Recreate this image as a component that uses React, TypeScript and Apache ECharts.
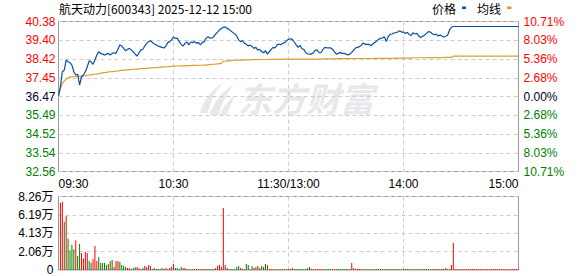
import React, { useEffect, useRef } from "react";
import * as echarts from "echarts";

// ---------------- data ----------------
const PRICE: number[] = [
  36.5, 37.0, 37.76, 37.85, 38.37, 38.28, 38.23, 38.11, 37.76, 37.59,
  37.62, 37.07, 37.5, 37.59, 37.76, 38.02, 38.33, 38.28, 38.15, 38.37,
  38.63, 38.81, 38.72, 38.68, 38.63, 38.68, 38.72, 38.63, 38.72, 38.75,
  38.72, 38.93, 39.16, 39.1, 38.98, 38.85, 38.93, 38.98, 38.89, 38.81,
  38.68, 38.57, 38.75, 38.89, 38.93, 39.1, 39.24, 39.33, 39.38, 39.28,
  39.21, 39.16, 39.1, 39.07, 39.03, 39.0, 39.1, 39.28, 39.33, 39.42,
  39.57, 39.5, 39.51, 39.33, 39.19, 39.1, 39.24, 39.31, 39.16, 39.31,
  39.28, 39.33, 39.24, 39.29, 39.16, 39.28, 39.33, 39.51, 39.59, 39.51,
  39.52, 39.59, 39.73, 39.83, 39.94, 40.01, 40.08, 40.1, 40.02, 39.97,
  39.88, 39.8, 39.73, 39.62, 39.42, 39.33, 39.38, 39.24, 39.19, 39.1,
  39.16, 39.07, 38.98, 39.03, 38.89, 38.93, 38.81, 38.75, 38.86, 38.68,
  38.81, 38.93, 39.03, 39.0, 39.16, 39.21, 39.17, 39.24, 39.28, 39.38,
  39.45, 39.48, 39.45, 39.31, 39.16, 39.03, 39.14, 38.96, 38.93, 38.75,
  38.7, 38.68, 38.68, 38.75, 38.89, 38.89, 38.75, 38.75, 38.93, 39.03,
  39.01, 39.01, 39.0, 38.93, 38.79, 38.68, 38.72, 38.77, 38.72, 38.72,
  38.68, 38.63, 38.68, 38.77, 38.89, 39.0, 39.03, 39.07, 39.14, 39.26,
  39.19, 39.19, 39.19, 39.12, 39.21, 39.29, 39.36, 39.45, 39.5, 39.52,
  39.59, 39.33, 39.59, 39.71, 39.73, 39.78, 39.8, 39.83, 39.9, 39.83,
  39.83, 39.76, 39.81, 39.69, 39.66, 39.8, 39.73, 39.76, 39.62, 39.55,
  39.61, 39.67, 39.76, 39.85, 39.83, 39.74, 39.69, 39.73, 39.62, 39.67,
  39.62, 39.57, 39.61, 39.66, 39.94, 40.08, 40.12, 40.12, 40.12, 40.12,
  40.12, 40.12, 40.12, 40.12, 40.12, 40.12, 40.12, 40.12, 40.12, 40.12,
  40.12, 40.12, 40.12, 40.12, 40.12, 40.12, 40.12, 40.12, 40.12, 40.12,
  40.12, 40.12, 40.12, 40.12, 40.12, 40.12, 40.12, 40.12, 40.12, 40.12,
  40.12,
];

const AVG: number[] = [
  36.5, 36.9, 37.15, 37.28, 37.38, 37.44, 37.48, 37.5, 37.51, 37.52,
  37.52, 37.53, 37.53, 37.54, 37.55, 37.57, 37.59, 37.6, 37.62, 37.63,
  37.64, 37.66, 37.68, 37.7, 37.72, 37.73, 37.75, 37.76, 37.77, 37.78,
  37.79, 37.8, 37.82, 37.83, 37.84, 37.85, 37.86, 37.87, 37.88, 37.89,
  37.9, 37.9, 37.91, 37.92, 37.93, 37.94, 37.94, 37.95, 37.96, 37.97,
  37.98, 37.98, 37.99, 38.0, 38.0, 38.01, 38.02, 38.02, 38.03, 38.04,
  38.05, 38.05, 38.06, 38.06, 38.07, 38.07, 38.07, 38.08, 38.08, 38.08,
  38.09, 38.09, 38.09, 38.1, 38.1, 38.1, 38.11, 38.11, 38.12, 38.13,
  38.14, 38.15, 38.16, 38.17, 38.18, 38.2, 38.3, 38.32, 38.33, 38.33,
  38.34, 38.35, 38.36, 38.36, 38.37, 38.37, 38.37, 38.38, 38.38, 38.38,
  38.38, 38.39, 38.39, 38.39, 38.39, 38.4, 38.4, 38.4, 38.4, 38.4,
  38.41, 38.41, 38.41, 38.41, 38.41, 38.41, 38.41, 38.42, 38.42, 38.42,
  38.42, 38.42, 38.42, 38.42, 38.42, 38.42, 38.42, 38.42, 38.42, 38.42,
  38.42, 38.42, 38.42, 38.42, 38.42, 38.42, 38.42, 38.42, 38.43, 38.43,
  38.43, 38.43, 38.43, 38.43, 38.43, 38.43, 38.44, 38.44, 38.44, 38.44,
  38.44, 38.44, 38.44, 38.45, 38.45, 38.45, 38.45, 38.45, 38.45, 38.45,
  38.45, 38.45, 38.45, 38.45, 38.45, 38.46, 38.46, 38.46, 38.46, 38.46,
  38.46, 38.46, 38.46, 38.46, 38.46, 38.47, 38.47, 38.47, 38.47, 38.47,
  38.47, 38.47, 38.47, 38.47, 38.47, 38.49, 38.49, 38.49, 38.49, 38.49,
  38.49, 38.49, 38.49, 38.5, 38.5, 38.5, 38.5, 38.5, 38.5, 38.5,
  38.5, 38.51, 38.51, 38.51, 38.51, 38.51, 38.57, 38.58, 38.58, 38.58,
  38.58, 38.58, 38.58, 38.58, 38.58, 38.58, 38.58, 38.58, 38.58, 38.58,
  38.58, 38.58, 38.58, 38.58, 38.58, 38.58, 38.58, 38.58, 38.58, 38.58,
  38.58, 38.58, 38.58, 38.58, 38.58, 38.58, 38.58, 38.58, 38.58, 38.58,
  38.58,
];

// volume in 万
const VOLUME: number[] = [
  0, 7.55, 7.66, 5.41, 6.08, 3.53, 2.22, 2.85, 2.33, 3.34,
  1.58, 2.93, 1.91, 1.28, 2.03, 1.91, 1.01, 0.79, 1.24, 2.7,
  1.01, 1.46, 0.79, 0.79, 0.79, 0.56, 0.68, 1.01, 1.13, 0.34,
  1.01, 1.01, 0.9, 0.56, 0.45, 0.34, 0.23, 0.23, 0.11, 0.23,
  0.34, 0.34, 0.23, 0.11, 0.23, 0.45, 0.34, 0.56, 0.45, 0.11,
  0.23, 0.11, 0.11, 0.11, 0.23, 0.11, 0.23, 0.11, 0.23, 0.34,
  0.68, 0.23, 0.23, 0.11, 0.34, 0.23, 0.23, 0.11, 0.11, 0.11,
  0.11, 0.11, 0.11, 0.11, 0.11, 0.11, 0.11, 0.11, 0.11, 0.11,
  0.11, 0.11, 0.23, 0.45, 0.56, 0.34, 6.98, 0.56, 0.23, 0.11,
  0.11, 0.11, 0.11, 0.34, 0.45, 0.23, 0.11, 0.11, 0.68, 0.56,
  0.11, 0.45, 0.23, 0.34, 0.45, 0.23, 0.45, 0.34, 0.68, 0.56,
  0.11, 0.11, 0.11, 0.11, 0.11, 0.11, 0.11, 0.11, 0.11, 0.11,
  0.11, 0.11, 0.23, 0.11, 0.11, 0.11, 0.11, 0.11, 0.11, 0.11,
  0.23, 0.34, 0.11, 0.11, 0.11, 0.11, 0.11, 0.11, 0.11, 0.11,
  0.11, 0.11, 0.11, 0.11, 0.11, 0.11, 0.11, 0.11, 0.11, 0.11,
  0.11, 0.11, 0.11, 0.79, 0.23, 0.11, 0.11, 0.11, 0.11, 0.11,
  0.11, 0.11, 0.11, 0.11, 0.11, 0.11, 0.11, 0.11, 0.11, 0.11,
  0.11, 0.11, 0.11, 0.11, 0.11, 0.11, 0.11, 0.11, 0.11, 0.11,
  0.11, 0.11, 0.11, 0.11, 0.11, 0.11, 0.11, 0.11, 0.11, 0.11,
  0.11, 0.11, 0.11, 0.11, 0.11, 0.11, 0.11, 0.11, 0.11, 0.11,
  0.11, 0.11, 0.23, 0.11, 0.11, 0.56, 3.04, 0.11, 0.11, 0.11,
  0.11, 0.11, 0.11, 0.11, 0.11, 0.11, 0.11, 0.11, 0.11, 0.11,
  0.11, 0.11, 0.11, 0.11, 0.11, 0.11, 0.11, 0.11, 0.11, 0.11,
  0.11, 0.11, 0.11, 0.11, 0.11, 0.11, 0.11, 0.11, 0.11, 0.11,
  0.11,
];

// 1 = up (red), 0 = down (green)
const VOL_UP: number[] = [
  1, 1, 1, 0, 1, 0, 0, 0, 0, 1,
  0, 0, 1, 1, 1, 1, 0, 0, 1, 1,
  1, 0, 0, 0, 0, 0, 1, 0, 0, 1,
  1, 1, 0, 0, 0, 0, 1, 1, 0, 0,
  0, 1, 1, 0, 0, 1, 1, 1, 0, 1,
  1, 0, 0, 0, 0, 1, 1, 1, 0, 1,
  1, 0, 0, 0, 0, 1, 1, 0, 1, 0,
  1, 0, 1, 0, 1, 1, 1, 0, 0, 0,
  0, 1, 1, 1, 1, 1, 1, 1, 0, 0,
  0, 0, 0, 0, 0, 1, 1, 1, 0, 0,
  1, 0, 1, 0, 1, 1, 0, 0, 1, 0,
  1, 1, 1, 0, 0, 0, 1, 0, 1, 1,
  1, 0, 0, 1, 0, 0, 0, 0, 0, 0,
  0, 1, 1, 1, 1, 1, 1, 1, 1, 0,
  0, 0, 1, 0, 1, 0, 0, 0, 1, 0,
  0, 0, 0, 1, 1, 1, 1, 1, 1, 1,
  0, 0, 0, 0, 1, 1, 0, 1, 0, 1,
  0, 1, 0, 1, 0, 0, 1, 0, 1, 0,
  0, 1, 1, 0, 0, 1, 0, 0, 0, 1,
  0, 1, 0, 1, 0, 1, 1, 0, 0, 1,
  1, 0, 0, 1, 1, 1, 1, 1, 1, 1,
  1, 1, 1, 1, 1, 1, 1, 1, 1, 1,
  1, 1, 1, 1, 1, 1, 1, 1, 1, 1,
  1, 1, 1, 1, 1, 1, 1, 1, 1, 1,
  1,
];

const PRICE_MIN = 32.56;
const PRICE_MAX = 40.38;
const PRICE_TICKS = ["32.56", "33.54", "34.52", "35.49", "36.47", "37.45", "38.42", "39.40", "40.38"];
const PCT_TICKS = ["10.71%", "8.03%", "5.36%", "2.68%", "0.00%", "2.68%", "5.36%", "8.03%", "10.71%"];
const VOL_MAX = 8.26;
const VOL_TICKS = ["0", "2.06万", "4.13万", "6.19万", "8.26万"];
const X_LABEL_IDX = [0, 60, 120, 180, 240];
const X_LABELS = ["09:30", "10:30", "11:30/13:00", "14:00", "15:00"];
const TITLE = "航天动力[600343] 2025-12-12 15:00";

// ---------------- helpers ----------------
function buildTimes(): string[] {
  const out: string[] = [];
  const fmt = (m: number) =>
    String(Math.floor(m / 60)).padStart(2, "0") + ":" + String(m % 60).padStart(2, "0");
  for (let m = 9 * 60 + 30; m <= 11 * 60 + 30; m++) out.push(fmt(m));
  for (let m = 13 * 60 + 1; m <= 15 * 60; m++) out.push(fmt(m));
  return out;
}

const RED = "#ff0000";
const GREEN = "#008000";
const NEUTRAL = "#000022";
const NUM_FONT = "'Liberation Sans', Arial, 'Noto Sans CJK SC', sans-serif";
const CJK_FONT = "'Noto Sans CJK SC', 'Liberation Sans', sans-serif";

const LOGO_D =
  "M4 38 C8 26 16 14 30 6 C22 14 16 26 13 38 Z " +
  "M15 40 C19 28 28 16 42 8 C34 18 28 29 25 40 Z " +
  "M26 40 C30 32 36 24 44 19 C40 27 36 34 35 40 Z";

let logoRegistered = false;
function registerLogo() {
  if (logoRegistered) return;
  echarts.graphic.registerShape("emlogo", echarts.graphic.extendPath(LOGO_D, {}) as any);
  logoRegistered = true;
}

export default function App() {
  const ref = useRef<HTMLDivElement>(null);

  useEffect(() => {
    if (!ref.current) return;
    registerLogo();
    const chart = echarts.init(ref.current, undefined, { renderer: "svg" });
    const times = buildTimes();
    const priceStep = (PRICE_MAX - PRICE_MIN) / 8;
    const volStep = VOL_MAX / 4;
    const pIdx = (v: any) => Math.round((Number(v) - PRICE_MIN) / priceStep);
    const pColor = (v: any) => {
      const k = pIdx(v);
      return k > 4 ? RED : k < 4 ? GREEN : NEUTRAL;
    };
    const vertSplit = {
      show: true,
      interval: (index: number) => index === 60 || index === 120 || index === 180,
      lineStyle: { color: "#cccccc", type: [4, 3] as any, width: 1 },
    };
    const horizSplit = {
      show: true,
      lineStyle: { color: "#cccccc", type: [4, 3] as any, width: 1 },
    };

    chart.setOption({
      animation: false,
      backgroundColor: "#ffffff",
      grid: [
        { left: 58.5, top: 21.5, right: 59.5, height: 150, show: true, borderColor: "#999999", borderWidth: 1, backgroundColor: "transparent" },
        { left: 58.5, top: 196.5, right: 59.5, height: 73.5, show: true, borderColor: "#999999", borderWidth: 1, backgroundColor: "transparent" },
      ],
      graphic: [
        {
          type: "emlogo",
          x: 196,
          y: 77,
          scaleX: 0.9,
          scaleY: 0.95,
          z: -10,
          silent: true,
          style: { fill: "#e8e8ec" },
        },
        {
          type: "text",
          x: 238,
          y: 80,
          z: -10,
          silent: true,
          style: {
            text: "东方财富",
            fill: "#e8e8ec",
            font: "italic bold 34px 'Noto Sans CJK SC', sans-serif",
          },
        },
        {
          type: "text",
          x: 59,
          y: 8.5,
          style: {
            text: TITLE,
            fill: "#000000",
            font: "12px " + CJK_FONT,
            verticalAlign: "middle",
          },
        },
        {
          type: "text",
          x: 432,
          y: 8.5,
          style: { text: "价格", fill: "#000000", font: "12px " + CJK_FONT, verticalAlign: "middle" },
        },
        { type: "rect", shape: { x: 462, y: 6.5, width: 4, height: 2.5 }, style: { fill: "#0a4fa0" } },
        {
          type: "text",
          x: 477,
          y: 8.5,
          style: { text: "均线", fill: "#000000", font: "12px " + CJK_FONT, verticalAlign: "middle" },
        },
        { type: "rect", shape: { x: 507, y: 6.5, width: 4.5, height: 2.5 }, style: { fill: "#dba02a" } },
      ],
      xAxis: [
        {
          type: "category",
          gridIndex: 0,
          data: times,
          boundaryGap: false,
          axisLine: { show: false },
          axisTick: { show: false },
          axisLabel: {
            interval: (index: number) => X_LABEL_IDX.includes(index),
            formatter: (_v: string, index: number) => {
              const k = X_LABEL_IDX.indexOf(index);
              return k >= 0 ? X_LABELS[k] : "";
            },
            color: "#000000",
            fontSize: 12,
            fontFamily: NUM_FONT,
            margin: 6,
            alignMinLabel: "left",
            alignMaxLabel: "right",
            showMinLabel: true,
            showMaxLabel: true,
          },
          splitLine: vertSplit,
        },
        {
          type: "category",
          gridIndex: 1,
          data: times,
          boundaryGap: false,
          axisLine: { show: false },
          axisTick: { show: false },
          axisLabel: { show: false },
          splitLine: vertSplit,
        },
      ],
      yAxis: [
        {
          type: "value",
          gridIndex: 0,
          min: PRICE_MIN,
          max: PRICE_MAX,
          interval: priceStep,
          axisLine: { show: false },
          axisTick: { show: false },
          axisLabel: {
            formatter: (v: number) => PRICE_TICKS[pIdx(v)] ?? "",
            color: (v: any) => pColor(v),
            fontSize: 12,
            fontFamily: NUM_FONT,
            margin: 3,
            showMinLabel: true,
            showMaxLabel: true,
          },
          splitLine: horizSplit,
        },
        {
          type: "value",
          gridIndex: 0,
          position: "right",
          min: PRICE_MIN,
          max: PRICE_MAX,
          interval: priceStep,
          axisLine: { show: false },
          axisTick: { show: false },
          axisLabel: {
            formatter: (v: number) => PCT_TICKS[pIdx(v)] ?? "",
            color: (v: any) => pColor(v),
            fontSize: 12,
            fontFamily: NUM_FONT,
            margin: 5,
            showMinLabel: true,
            showMaxLabel: true,
          },
          splitLine: { show: false },
        },
        {
          type: "value",
          gridIndex: 1,
          min: 0,
          max: VOL_MAX,
          interval: volStep,
          axisLine: { show: false },
          axisTick: { show: false },
          axisLabel: {
            formatter: (v: number) => VOL_TICKS[Math.round(v / volStep)] ?? "",
            color: "#000000",
            fontSize: 12,
            fontFamily: NUM_FONT,
            margin: 5,
            showMinLabel: true,
            showMaxLabel: true,
          },
          splitLine: horizSplit,
        },
      ],
      series: [
        {
          type: "line",
          name: "价格",
          xAxisIndex: 0,
          yAxisIndex: 0,
          data: PRICE,
          symbol: "none",
          z: 4,
          lineStyle: { color: "#0a4fa0", width: 1.2 },
        },
        {
          type: "line",
          name: "均线",
          xAxisIndex: 0,
          yAxisIndex: 0,
          data: AVG,
          symbol: "none",
          z: 3,
          lineStyle: { color: "#dba02a", width: 1.2 },
        },
        {
          type: "bar",
          name: "成交量",
          xAxisIndex: 1,
          yAxisIndex: 2,
          barWidth: 1,
          data: VOLUME.map((v, i) => ({
            value: v,
            itemStyle: { color: VOL_UP[i] ? RED : GREEN },
          })),
        },
      ],
    });
    return () => chart.dispose();
  }, []);

  return (
    <div
      ref={ref}
      style={{ position: "absolute", left: 0, top: 0, width: 578, height: 276, background: "#fff" }}
    />
  );
}
